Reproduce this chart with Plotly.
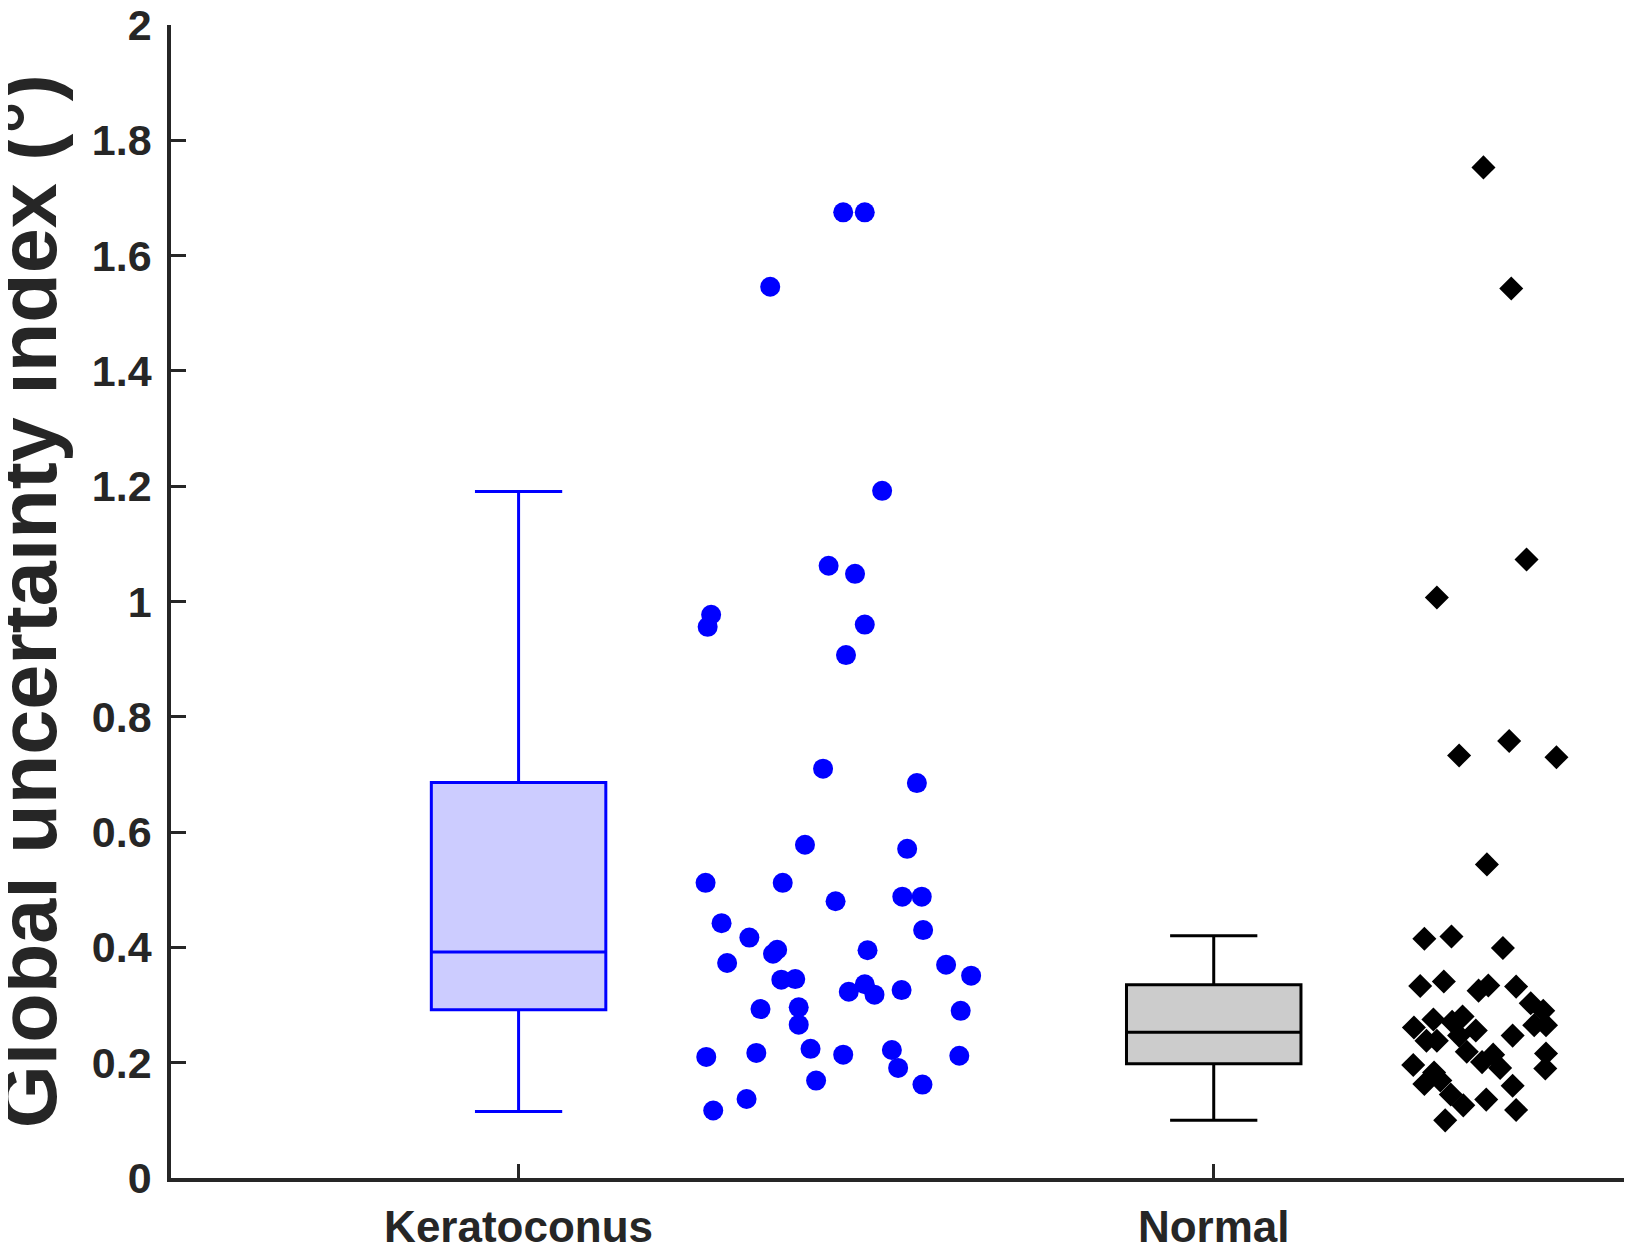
import plotly.graph_objects as go

# ---------------- data ----------------
categories = ["Keratoconus", "Normal"]
category_pos = [1, 2]

# Box summary statistics
kc_box = dict(lower=0.1155, q1=0.292, median=0.392, q3=0.686, upper=1.191)
nm_box = dict(lower=0.100, q1=0.198, median=0.253, q3=0.335, upper=0.420)

# Individual points: jittered x positions and values
kc_x = [1.467, 1.498, 1.362, 1.523, 1.446, 1.484, 1.277, 1.272, 1.498, 1.471,
        1.438, 1.573, 1.412, 1.559, 1.269, 1.380, 1.456, 1.552, 1.580, 1.292,
        1.332, 1.582, 1.372, 1.366, 1.502, 1.300, 1.615, 1.651, 1.378, 1.398,
        1.498, 1.475, 1.512, 1.551, 1.348, 1.403, 1.403, 1.636, 1.270, 1.342,
        1.420, 1.467, 1.537, 1.546, 1.634, 1.428, 1.581, 1.328, 1.280]
kc_y = [1.675, 1.675, 1.546, 1.192, 1.062, 1.048, 0.977, 0.956, 0.960, 0.907,
        0.710, 0.685, 0.578, 0.571, 0.512, 0.512, 0.480, 0.488, 0.488, 0.442,
        0.417, 0.430, 0.396, 0.389, 0.395, 0.373, 0.370, 0.351, 0.344, 0.345,
        0.336, 0.323, 0.318, 0.326, 0.293, 0.296, 0.266, 0.290, 0.210, 0.217,
        0.224, 0.214, 0.222, 0.191, 0.212, 0.169, 0.162, 0.137, 0.117]

nm_x = [2.388, 2.428, 2.450, 2.321, 2.353, 2.425, 2.493, 2.393, 2.303, 2.342,
        2.416, 2.297, 2.331, 2.381, 2.395, 2.435, 2.456, 2.474, 2.288, 2.316,
        2.343, 2.358, 2.377, 2.306, 2.321, 2.353, 2.430, 2.461, 2.478, 2.364,
        2.386, 2.402, 2.412, 2.478, 2.287, 2.303, 2.317, 2.326, 2.477, 2.341,
        2.359, 2.430, 2.392, 2.435, 2.333]
nm_y = [1.753, 1.543, 1.073, 1.007, 0.733, 0.758, 0.730, 0.544, 0.415, 0.419,
        0.399, 0.333, 0.341, 0.325, 0.334, 0.332, 0.303, 0.290, 0.261, 0.275,
        0.271, 0.280, 0.256, 0.238, 0.238, 0.247, 0.247, 0.265, 0.265, 0.219,
        0.201, 0.214, 0.191, 0.216, 0.196, 0.163, 0.183, 0.169, 0.190, 0.145,
        0.126, 0.160, 0.136, 0.118, 0.100]

y_ticks = [0, 0.2, 0.4, 0.6, 0.8, 1, 1.2, 1.4, 1.6, 1.8, 2]
y_title = "Global uncertainty index (°)"

# ---------------- figure ----------------
AXIS_COLOR = "#262626"
FONT = "Liberation Sans, Arial, sans-serif"

fig = go.Figure()

def add_box(pos, s, fill, line):
    fig.add_trace(go.Box(
        x=[pos], q1=[s["q1"]], median=[s["median"]], q3=[s["q3"]],
        lowerfence=[s["lower"]], upperfence=[s["upper"]],
        width=0.251, whiskerwidth=0.5, boxpoints=False,
        fillcolor=fill, line=dict(color=line, width=3),
        showlegend=False, hoverinfo="skip",
    ))

add_box(category_pos[0], kc_box, "#CCCCFF", "#0000FF")
add_box(category_pos[1], nm_box, "#CCCCCC", "#000000")

fig.add_trace(go.Scatter(
    x=kc_x, y=kc_y, mode="markers",
    marker=dict(symbol="circle", size=20, color="#0000FF", line=dict(width=0)),
    showlegend=False, hoverinfo="skip",
))
fig.add_trace(go.Scatter(
    x=nm_x, y=nm_y, mode="markers",
    marker=dict(symbol="diamond", size=18.5, color="#000000", line=dict(width=0)),
    showlegend=False, hoverinfo="skip",
))

fig.update_layout(
    width=1624, height=1245,
    margin=dict(l=163, r=0, t=17, b=75, autoexpand=False),
    paper_bgcolor="white", plot_bgcolor="white",
    font=dict(family=FONT, color=AXIS_COLOR),
    xaxis=dict(
        range=[0.5, 2.6017], tickmode="array", tickvals=category_pos,
        ticktext=categories, ticks="inside", ticklen=14, tickwidth=3,
        tickcolor=AXIS_COLOR, showline=True, linecolor=AXIS_COLOR, linewidth=3.5,
        showgrid=False, zeroline=False, automargin=False, ticklabelstandoff=7,
        tickfont=dict(family=FONT, size=44, color=AXIS_COLOR, weight="bold"),
    ),
    yaxis=dict(
        range=[0, 2], tickmode="array", tickvals=y_ticks,
        ticktext=[f"{v:g}" for v in y_ticks],
        ticks="inside", ticklen=15, tickwidth=3, tickcolor=AXIS_COLOR,
        showline=True, linecolor=AXIS_COLOR, linewidth=3.5,
        showgrid=False, zeroline=False, automargin=False, ticklabelstandoff=7,
        ticklabeloverflow="allow",
        tickfont=dict(family=FONT, size=43, color=AXIS_COLOR, weight="bold"),
    ),
    annotations=[dict(
        text=y_title, xref="paper", yref="paper", x=-0.098, y=0.5,
        xanchor="center", yanchor="middle", textangle=-90, showarrow=False,
        font=dict(family=FONT, size=81, color=AXIS_COLOR, weight="bold"),
    )],
)

fig.write_html("out.html", config={"displayModeBar": False})
